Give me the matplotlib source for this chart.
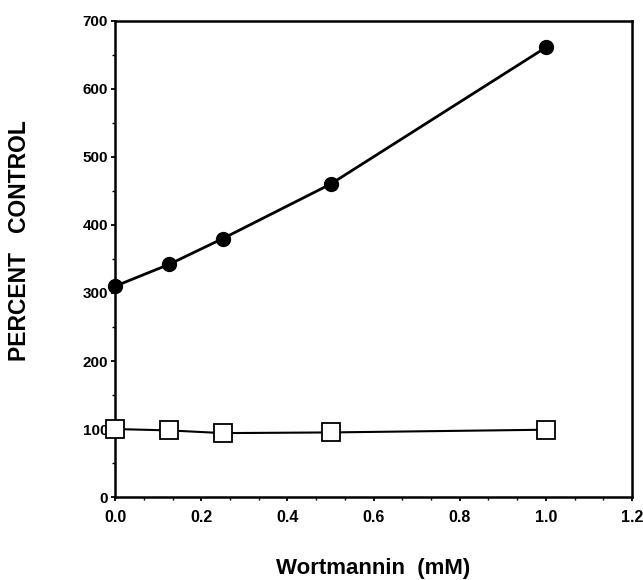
import numpy as np
import matplotlib.pyplot as plt
from matplotlib.ticker import MultipleLocator

## data ##
dose = [0.0, 0.125, 0.25, 0.5, 1.0]
treated = [310, 342, 380, 460, 661]
control = [100, 98, 94, 95, 99]

plt.rcParams['font.family'] = ['Liberation Sans', 'DejaVu Sans']
plt.rcParams['font.weight'] = 'bold'

fig = plt.figure(figsize=(6.43, 5.80), dpi=100)
ax = fig.add_axes([0.179, 0.143, 0.804, 0.821])

ax.plot(dose, treated, color='black', linewidth=2, marker='o',
        markersize=10, markerfacecolor='black', clip_on=False, zorder=3)
ax.plot(dose, control, color='black', linewidth=1.5, marker='s',
        markersize=12.5, markerfacecolor='white', markeredgewidth=1.3,
        clip_on=False, zorder=3)

ax.set_xlim(0, 1.2)
ax.set_ylim(0, 700)
ax.xaxis.set_major_locator(MultipleLocator(0.2))
ax.xaxis.set_minor_locator(MultipleLocator(0.2 / 3))
ax.yaxis.set_major_locator(MultipleLocator(100))
ax.yaxis.set_minor_locator(MultipleLocator(50))
ax.set_xticklabels([f"{v:.1f}" for v in ax.get_xticks()])

for s in ax.spines.values():
    s.set_linewidth(1.8)
ax.tick_params(which='major', direction='out', length=3, width=1.3,
               labelsize=11)
ax.tick_params(axis='x', which='major', pad=6, labelsize=11.5)
ax.tick_params(axis='y', which='major', pad=2)
ax.tick_params(which='minor', direction='out', length=2, width=1)
for lab in ax.get_xticklabels() + ax.get_yticklabels():
    lab.set_fontweight('bold')

ax.set_xlabel("Wortmannin  (mM)", fontsize=16, fontweight='bold', va='center')
ax.xaxis.set_label_coords(0.5, -0.149)
ax.set_ylabel("PERCENT   CONTROL", fontsize=16.5, fontweight='bold', va='center')
ax.yaxis.set_label_coords(-0.185, 0.538)

plt.savefig('out.png', dpi=100)
